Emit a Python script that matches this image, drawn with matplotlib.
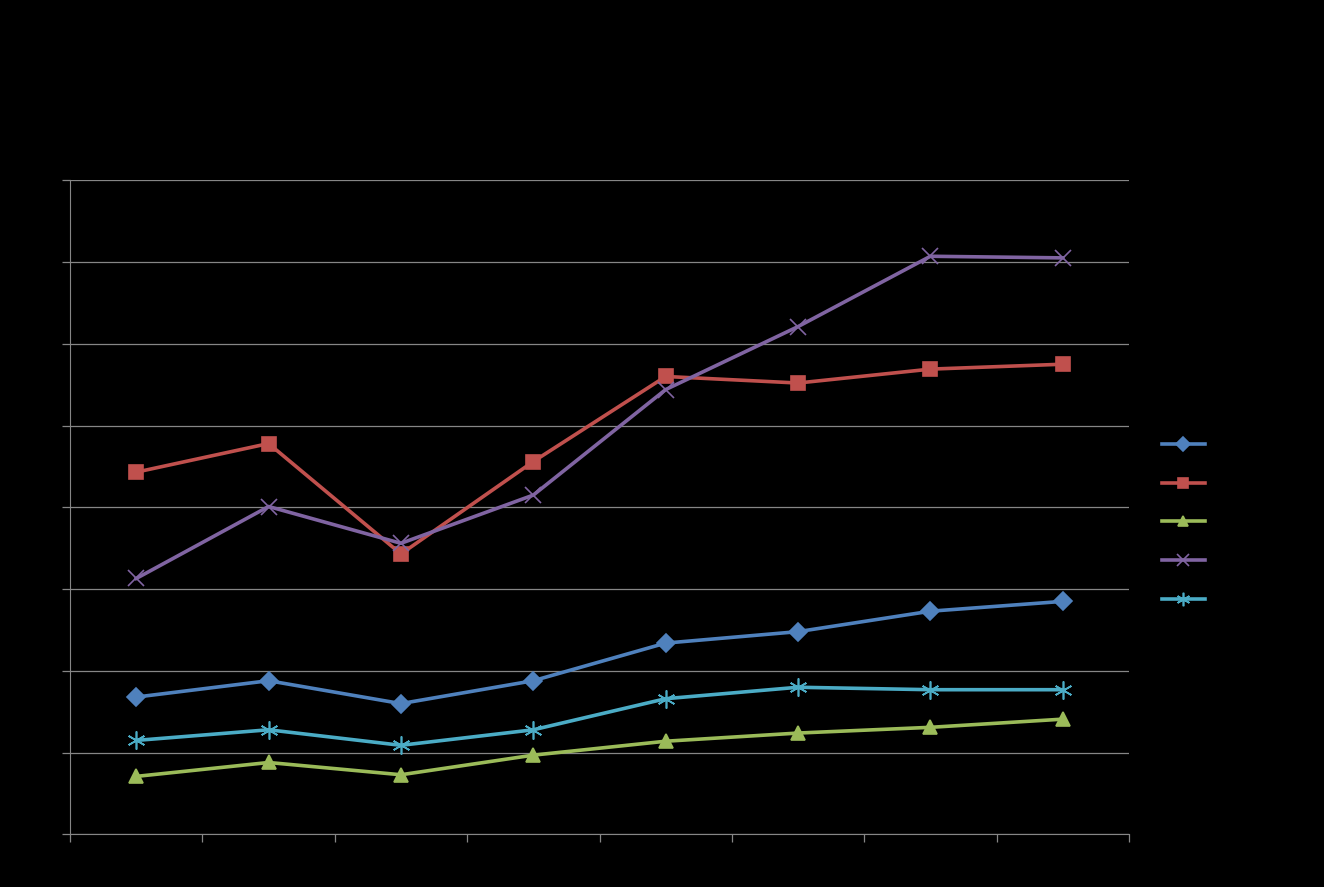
import matplotlib.pyplot as plt

# Data (y scale 0-80, 8 categories)
categories = ['1', '2', '3', '4', '5', '6', '7', '8']
series_names = ['Series 1', 'Series 2', 'Series 3', 'Series 4', 'Series 5']
s1 = [16.8, 18.8, 16.0, 18.8, 23.4, 24.8, 27.3, 28.5]
s2 = [44.3, 47.8, 34.3, 45.6, 56.0, 55.2, 56.9, 57.5]
s3 = [7.1, 8.8, 7.3, 9.7, 11.4, 12.4, 13.1, 14.1]
s4 = [31.3, 40.1, 35.6, 41.5, 54.4, 62.1, 70.7, 70.5]
s5 = [11.5, 12.8, 10.9, 12.8, 16.6, 18.0, 17.7, 17.7]

colours = ['#4F81BD', '#C0504D', '#9BBB59', '#8064A2', '#4BACC6']
markers = ['D', 's', '^', 'x', (6, 2, 0)]
sizes = [9, 10, 10, 12, 13]

fig = plt.figure(figsize=(13.24, 8.875), dpi=100, facecolor='black')
ax = fig.add_axes([0.0529, 0.0592, 0.7998, 0.7372])
ax.set_facecolor('black')

x = list(range(len(categories)))
for vals, name, col, mk, ms in zip([s1, s2, s3, s4, s5], series_names,
                                   colours, markers, sizes):
    ax.plot(x, vals, color=col, lw=2.6, marker=mk, markersize=ms,
            markeredgecolor=col, markerfacecolor=col, markeredgewidth=1.2,
            label=name, zorder=3)

ax.set_xlim(-0.5, 7.5)
ax.set_ylim(0, 80)
ax.set_yticks(range(0, 81, 10))
ax.set_xticks([i - 0.5 for i in range(9)])
ax.set_xticklabels([])
ax.set_yticklabels([])
ax.yaxis.grid(True, color='#868686', lw=0.9)
ax.set_axisbelow(True)
for side in ['top', 'right']:
    ax.spines[side].set_visible(False)
for side in ['left', 'bottom']:
    ax.spines[side].set_color('#868686')
ax.tick_params(axis='both', colors='#868686', length=6, width=0.9,
               direction='out')

leg = ax.legend(loc='center left', bbox_to_anchor=(0.868, 0.411),
                bbox_transform=fig.transFigure, frameon=False,
                handlelength=3.1, labelspacing=1.78, markerscale=0.75,
                fontsize=10, labelcolor='black')

fig.savefig('out.png', dpi=100, facecolor='black')
